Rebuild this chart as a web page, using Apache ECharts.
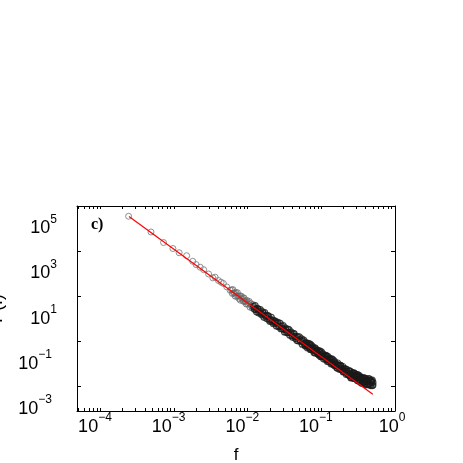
<!DOCTYPE html>
<html>
<head>
<meta charset="utf-8">
<script src="https://cdn.jsdelivr.net/npm/echarts@6/dist/echarts.min.js"></script>
<style>
  html, body { margin: 0; padding: 0; background: #fff; }
  #chart { width: 463px; height: 463px; }
</style>
</head>
<body>
<div id="chart"></div>
<script>
// spectrum, low frequencies (single circles)
const lowBand = [
  [2.41e-4, 3.5e5], [4.85e-4, 7.0e4], [7.19e-4, 2.38e4], [9.64e-4, 1.29e4], [1.17e-3, 8.4e3],
  [1.48e-3, 6.2e3], [1.79e-3, 3.5e3], [1.99e-3, 2.5e3], [2.26e-3, 1.91e3], [2.52e-3, 1.48e3],
  [2.94e-3, 953], [3.36e-3, 640], [3.61e-3, 687], [4.0e-3, 490], [4.35e-3, 412],
  [4.67e-3, 361], [5.19e-3, 255], [5.75e-3, 182]
]
// spectrum, where circles start to overlap
const midBand = [
  [6.03e-3, 187], [6.17e-3, 131], [6.31e-3, 192], [6.46e-3, 132], [6.61e-3, 140], [6.76e-3, 98.2], [6.92e-3, 141], [7.08e-3, 98.6], [7.24e-3, 141], [7.41e-3, 102],
  [7.59e-3, 78.2], [7.76e-3, 99.8], [7.94e-3, 65.3], [8.13e-3, 100], [8.32e-3, 73.8], [8.51e-3, 83.9], [8.71e-3, 58.9], [8.91e-3, 82.4], [9.12e-3, 56.5], [9.33e-3, 60.1],
  [9.55e-3, 44.1], [9.77e-3, 63.1], [0.0100, 44.3], [0.01023, 50.5], [0.01047, 57.4], [0.01072, 32.0], [0.01096, 45.8], [0.01122, 36.9], [0.01148, 29.7], [0.01175, 41.7]
]
// spectrum, dense part
const denseBand = [
  [0.01202, 33.6], [0.01230, 26.4], [0.01259, 37.8], [0.01288, 25.4], [0.01318, 20.0], [0.01349, 27.4], [0.01380, 27.1], [0.01413, 17.7], [0.01445, 20.7], [0.01479, 24.7],
  [0.01514, 16.9], [0.01549, 14.9], [0.01585, 20.0], [0.01622, 16.9], [0.01660, 11.3], [0.01698, 18.2], [0.01738, 12.7], [0.01778, 13.8], [0.01820, 9.93], [0.01862, 13.0],
  [0.01905, 13.2], [0.01950, 9.02], [0.01995, 7.60], [0.02042, 9.29], [0.02089, 11.3], [0.02138, 7.08], [0.02188, 8.24], [0.02239, 5.92], [0.02291, 8.09], [0.02344, 6.38],
  [0.02399, 7.26], [0.02455, 4.66], [0.02512, 6.10], [0.02570, 6.79], [0.02630, 4.36], [0.02692, 4.63], [0.02754, 6.07], [0.02818, 3.55], [0.02884, 4.55], [0.02951, 3.51],
  [0.03020, 4.82], [0.03090, 3.24], [0.03162, 2.55], [0.03236, 3.76], [0.03311, 3.10], [0.03388, 2.39], [0.03467, 3.36], [0.03548, 2.42], [0.03631, 3.24], [0.03715, 1.85],
  [0.03802, 2.32], [0.03890, 2.52], [0.03981, 1.73], [0.04074, 1.47], [0.04169, 2.01], [0.04266, 2.14], [0.04365, 1.58], [0.04467, 1.30], [0.04571, 1.56], [0.04677, 1.05],
  [0.04786, 1.53], [0.04898, 1.01], [0.05012, 1.55], [0.05129, 1.12], [0.05248, 0.944], [0.05370, 1.24], [0.05495, 0.723], [0.05623, 0.991], [0.05754, 1.11], [0.05888, 0.760],
  [0.06026, 0.643], [0.06166, 0.822], [0.06310, 0.711], [0.06457, 0.501], [0.06607, 0.789], [0.06761, 0.542], [0.06918, 0.647], [0.07079, 0.425], [0.07244, 0.670], [0.07413, 0.460],
  [0.07586, 0.562], [0.07762, 0.378], [0.07943, 0.441], [0.08128, 0.504], [0.08318, 0.288], [0.08511, 0.352], [0.08710, 0.392], [0.08913, 0.282], [0.09120, 0.378], [0.09333, 0.232],
  [0.09550, 0.303], [0.09772, 0.208], [0.1000, 0.328], [0.1023, 0.221], [0.1047, 0.270], [0.1072, 0.162], [0.1096, 0.207], [0.1122, 0.221], [0.1148, 0.156], [0.1175, 0.219],
  [0.1202, 0.151], [0.1230, 0.202], [0.1259, 0.121], [0.1288, 0.148], [0.1318, 0.158], [0.1349, 0.0991], [0.1380, 0.160], [0.1413, 0.110], [0.1445, 0.0912], [0.1479, 0.117],
  [0.1514, 0.122], [0.1549, 0.0800], [0.1585, 0.0955], [0.1622, 0.0643], [0.1660, 0.106], [0.1698, 0.0746], [0.1738, 0.0834], [0.1778, 0.0548], [0.1820, 0.0826], [0.1862, 0.0555],
  [0.1905, 0.0604], [0.1950, 0.0740], [0.1995, 0.0433], [0.2042, 0.0594], [0.2089, 0.0439], [0.2138, 0.0574], [0.2188, 0.0329], [0.2239, 0.0452], [0.2291, 0.0341], [0.2344, 0.0479],
  [0.2399, 0.0294], [0.2455, 0.0459], [0.2512, 0.0343], [0.2570, 0.0234], [0.2630, 0.0374], [0.2692, 0.0267], [0.2754, 0.0389], [0.2818, 0.0216], [0.2884, 0.0301], [0.2951, 0.0246],
  [0.3020, 0.0313], [0.3090, 0.0177], [0.3162, 0.0252], [0.3236, 0.0299], [0.3311, 0.0182], [0.3388, 0.0146], [0.3467, 0.0233], [0.3548, 0.0187], [0.3631, 0.0146], [0.3715, 0.0228],
  [0.3802, 0.0149], [0.3890, 0.0221], [0.3981, 0.0116], [0.4074, 0.0185], [0.4169, 0.0162], [0.4266, 0.0118], [0.4365, 0.0211], [0.4467, 0.0125], [0.4571, 0.0181], [0.4677, 0.0105],
  [0.4786, 0.0167], [0.4898, 0.0103], [0.5012, 0.0147]
]
// second circles where the band is thick
const denseBandExtra = [
  [0.06026, 0.614], [0.06310, 0.817], [0.06607, 0.585], [0.06918, 0.743], [0.07244, 0.433],
  [0.07586, 0.501], [0.07943, 0.312], [0.08318, 0.456], [0.08710, 0.333], [0.09120, 0.262],
  [0.09550, 0.356], [0.1000, 0.202], [0.1047, 0.252], [0.1096, 0.194], [0.1148, 0.231],
  [0.1202, 0.128], [0.1259, 0.160], [0.1318, 0.162], [0.1380, 0.108], [0.1445, 0.145],
  [0.1514, 0.0822], [0.1585, 0.0912], [0.1660, 0.0611], [0.1738, 0.0834], [0.1820, 0.0807],
  [0.1905, 0.0538], [0.1995, 0.0423], [0.2089, 0.0504], [0.2188, 0.0558], [0.2291, 0.0333],
  [0.2399, 0.0466], [0.2455, 0.0296], [0.2512, 0.0237], [0.2570, 0.0346], [0.2630, 0.0383],
  [0.2692, 0.0227], [0.2754, 0.0288], [0.2818, 0.0366], [0.2884, 0.0213], [0.2951, 0.0296],
  [0.3020, 0.0226], [0.3090, 0.0323], [0.3162, 0.0171], [0.3236, 0.0261], [0.3311, 0.0178],
  [0.3388, 0.0215], [0.3467, 0.0249], [0.3548, 0.0132], [0.3631, 0.0207], [0.3715, 0.0158],
  [0.3802, 0.0230], [0.3890, 0.0133], [0.3981, 0.0161], [0.4074, 0.0208], [0.4169, 0.0115],
  [0.4266, 0.0171], [0.4365, 0.0130], [0.4467, 0.0207], [0.4571, 0.0114], [0.4677, 0.0174],
  [0.4786, 0.0146], [0.4898, 0.0184], [0.5012, 0.0111]
]
// red power-law fit, end points
const fitLine = [[2.44e-4, 3.4e5], [0.5, 4.3e-3]]

const xRange = [4.8e-5, 1]
const yRange = [7.8e-4, 1e6]
const xLabelValues = [1e-4, 1e-3, 1e-2, 1e-1, 1]
const yLabelValues = [1e-3, 1e-1, 10, 1e3, 1e5]
const yTickValues = [1e-2, 1, 1e2, 1e4]

// bottom/top ticks at 1..9 x 10^k
let xTickValues = []
for (let k = -5; k <= 0; k++) {
  for (let m = 1; m <= 9; m++) {
    const v = m * Math.pow(10, k)
    if (v >= xRange[0] && v <= xRange[1]) xTickValues.push(v)
  }
}

const powLabel = value => {
  const e = Math.round(Math.log10(value))
  return e < 0 ? `{b|10}{n|−${-e}}` : `{b|10}{s|${e}}`
}
const labelRich = {
  b: { fontSize: 18, fontFamily: 'Liberation Sans', color: '#000', lineHeight: 30 },
  s: { fontSize: 12, fontFamily: 'Liberation Sans', color: '#000', verticalAlign: 'top' },
  n: { fontSize: 12, fontFamily: 'Liberation Sans', color: '#000', verticalAlign: 'top', padding: [0, 5, 0, 0] }
}
const frame = { show: true, lineStyle: { color: '#000', width: 1 } }
const circle = (color, width) => ({ color: 'rgba(0,0,0,0)', borderColor: color, borderWidth: width })

const chart = echarts.init(document.getElementById('chart'))
chart.setOption({
  animation: false,
  backgroundColor: '#fff',
  grid: { left: 77, right: 68, top: 206, bottom: 52, containLabel: false, outerBoundsMode: 'none' },
  graphic: [{
    type: 'text',
    left: 91,
    top: 217,
    style: { text: 'c)', font: 'bold 16px "Liberation Serif"', fill: '#000' }
  }],
  xAxis: [
    {
      type: 'log',
      logBase: 10,
      min: xRange[0],
      max: xRange[1],
      name: 'f',
      nameLocation: 'middle',
      nameGap: 36,
      nameTextStyle: { fontSize: 17, fontFamily: 'Liberation Sans', color: '#000' },
      axisLine: frame,
      axisTick: { show: true, inside: true, length: 3, customValues: xTickValues, lineStyle: { color: '#000' } },
      axisLabel: { customValues: xLabelValues, formatter: powLabel, rich: labelRich, margin: 1, padding: [0, 6, 0, 0] },
      splitLine: { show: false }
    },
    {
      type: 'log',
      logBase: 10,
      position: 'top',
      min: xRange[0],
      max: xRange[1],
      axisLine: frame,
      axisTick: { show: true, inside: true, length: 3, customValues: xTickValues, lineStyle: { color: '#000' } },
      axisLabel: { show: false },
      splitLine: { show: false }
    }
  ],
  yAxis: [
    {
      type: 'log',
      logBase: 10,
      min: yRange[0],
      max: yRange[1],
      name: 'P(f)',
      nameLocation: 'middle',
      nameGap: 71,
      nameTextStyle: { fontSize: 18, fontFamily: 'Liberation Sans', color: '#000' },
      axisLine: frame,
      axisTick: { show: true, inside: true, length: 4, customValues: yTickValues, lineStyle: { color: '#000' } },
      axisLabel: { customValues: yLabelValues, formatter: powLabel, rich: labelRich, margin: 20 },
      splitLine: { show: false }
    },
    {
      type: 'log',
      logBase: 10,
      position: 'right',
      min: yRange[0],
      max: yRange[1],
      axisLine: frame,
      axisTick: { show: true, inside: true, length: 4, customValues: yTickValues, lineStyle: { color: '#000' } },
      axisLabel: { show: false },
      splitLine: { show: false }
    }
  ],
  series: [
    {
      type: 'scatter',
      data: lowBand,
      symbol: 'circle',
      symbolSize: 6,
      itemStyle: circle('#777', 1),
      z: 2
    },
    {
      type: 'scatter',
      data: midBand,
      symbol: 'circle',
      symbolSize: 6,
      itemStyle: circle('#666', 1),
      z: 2
    },
    {
      type: 'scatter',
      data: denseBand.concat(denseBandExtra),
      symbol: 'circle',
      symbolSize: 6,
      itemStyle: circle('#1a1a1a', 1.2),
      z: 2
    },
    {
      type: 'line',
      data: fitLine,
      symbol: 'none',
      lineStyle: { color: '#ff0000', width: 1.2 },
      z: 3
    }
  ]
})
</script>
</body>
</html>
